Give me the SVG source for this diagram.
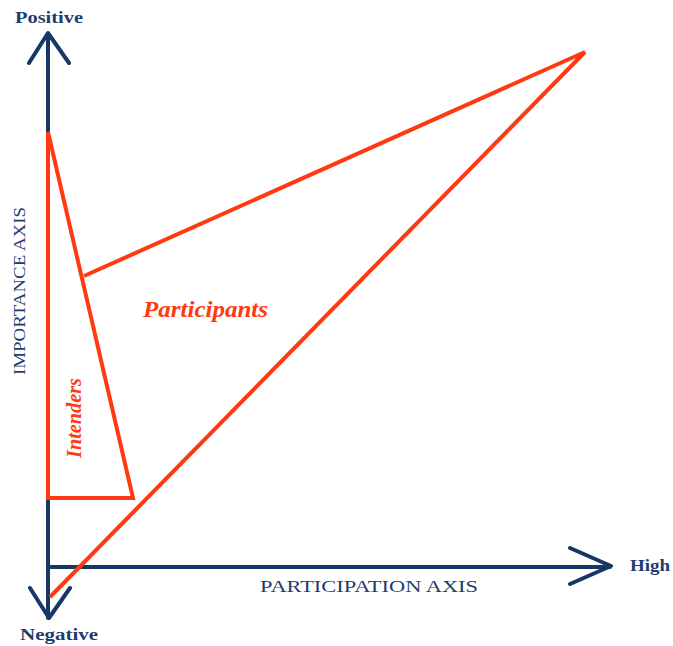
<svg xmlns="http://www.w3.org/2000/svg" width="673" height="646" viewBox="0 0 673 646">
<style>
.ax{stroke:#173766;stroke-width:4;fill:none;stroke-linecap:round;stroke-linejoin:round}
.rd{stroke:#ff3a12;stroke-width:4;fill:none;stroke-linejoin:miter}
.lb{font-family:"Liberation Serif",serif;fill:#1f3c6e;font-size:17px}
.bd{font-weight:bold}
.rl{font-family:"Liberation Serif",serif;fill:#ff3a12;font-weight:bold;font-style:italic}
</style>
<rect width="673" height="646" fill="#fff"/>
<g id="connectors">
<path class="ax" d="M48,34 V618 M29,63 L48,33 L69,63 M30,588 L49,618 L70,588 M48,567 H610 M570,548 L611,566 L570,584"/>
</g>
<g id="intenders">
<path class="rd" d="M48,132 V498 H133 Z"/>
<text class="rl" font-size="22" transform="translate(81,418) rotate(-90)" text-anchor="middle" textLength="80" lengthAdjust="spacingAndGlyphs">Intenders</text>
</g>
<g id="participants">
<path class="rd" d="M84,276 L585,52 L50,597"/>
<text class="rl" font-size="23" x="143" y="317" textLength="125" lengthAdjust="spacingAndGlyphs">Participants</text>
</g>
<g id="labels">
<text class="lb bd" x="15" y="23" textLength="68" lengthAdjust="spacingAndGlyphs">Positive</text>
<text class="lb bd" x="20" y="640" textLength="78" lengthAdjust="spacingAndGlyphs">Negative</text>
<text class="lb bd" x="630" y="571" textLength="40" lengthAdjust="spacingAndGlyphs">High</text>
<text class="lb" font-size="18" x="260" y="592" textLength="218" lengthAdjust="spacingAndGlyphs">PARTICIPATION AXIS</text>
<text class="lb" font-size="18" transform="translate(25,375) rotate(-90)" textLength="168" lengthAdjust="spacingAndGlyphs">IMPORTANCE AXIS</text>
</g>
</svg>
